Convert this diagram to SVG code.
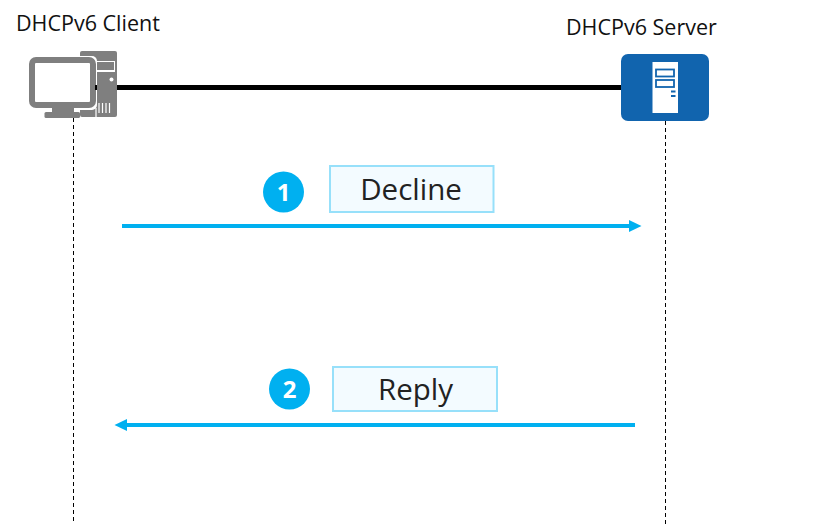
<svg xmlns="http://www.w3.org/2000/svg" width="827" height="528" viewBox="0 0 827 528">
<style>
text{font-family:"Open Sans","Noto Sans","Liberation Sans",sans-serif}
.title{font-size:21.500px;fill:#111}
.msg{font-size:29.500px;fill:#222;text-anchor:middle}
.num{font-size:24px;font-weight:700;fill:#fff;text-anchor:middle}
.box{fill:#f3fbff;stroke:#97e0fa;stroke-width:2}
.life{stroke:#000;stroke-width:1;stroke-dasharray:4 3;fill:none}
.flow{stroke:#00b0f0;stroke-width:4;fill:none}
.badge{fill:#00b0f0}
.pc{fill:#7f7f7f}
</style>
<rect width="827" height="528" fill="#fff"/>
<g id="connectors">
<line x1="117" y1="87.500" x2="621" y2="87.500" stroke="#000" stroke-width="5"/>
<line class="life" x1="73.500" y1="118" x2="73.500" y2="524"/>
<line class="life" x1="665.500" y1="121" x2="665.500" y2="527"/>
<line class="flow" x1="122" y1="226" x2="631" y2="226"/>
<polygon points="629,220 641.500,226 629,232" fill="#00b0f0"/>
<line class="flow" x1="635" y1="425" x2="125" y2="425"/>
<polygon points="127,419 114.500,425 127,431" fill="#00b0f0"/>
</g>
<g id="client">
<text class="title" x="16" y="31">DHCPv6 Client</text>
<rect class="pc" x="80" y="51" width="37" height="66" rx="2"/>
<rect x="96" y="61" width="19" height="11" fill="#fff"/>
<rect class="pc" x="97" y="62" width="17" height="8"/>
<circle cx="111.500" cy="79.500" r="2" fill="#fff"/>
<path d="M96 108V117M99 103V113M102.500 103V113M106 103V113M109.500 103V113" stroke="#fff" stroke-width="1.200"/>
<rect x="28" y="56" width="69" height="54" rx="5" fill="#fff"/>
<rect x="32" y="60" width="61" height="45" rx="4" fill="#fff" stroke="#7f7f7f" stroke-width="6"/>
<rect x="95" y="85" width="2" height="5" fill="#000"/>
<rect class="pc" x="52" y="108" width="22" height="4"/>
<rect class="pc" x="44.500" y="112" width="35.500" height="6" rx="1.500"/>
</g>
<g id="server">
<text class="title" x="566" y="34.500">DHCPv6 Server</text>
<rect x="621" y="54" width="88" height="67" rx="7" fill="#1164ae"/>
<rect x="652.500" y="62" width="25.500" height="51" fill="#fff"/>
<rect x="656" y="69.500" width="18" height="7" fill="#fff" stroke="#1164ae" stroke-width="1.800"/>
<rect x="656" y="80" width="18" height="7" fill="#fff" stroke="#1164ae" stroke-width="1.800"/>
<rect x="671" y="90.500" width="4.500" height="2" fill="#1164ae"/>
<rect x="671" y="95" width="4.500" height="2" fill="#1164ae"/>
</g>
<g id="msg1">
<circle class="badge" cx="283.500" cy="192" r="20.500"/>
<text class="num" x="283.500" y="201">1</text>
<rect class="box" x="330" y="166" width="163.500" height="46"/>
<text class="msg" x="411" y="200">Decline</text>
</g>
<g id="msg2">
<circle class="badge" cx="289.500" cy="389" r="20.500"/>
<text class="num" x="289.500" y="398">2</text>
<rect class="box" x="333" y="367" width="164" height="44"/>
<text class="msg" x="415.500" y="400">Reply</text>
</g>
</svg>
